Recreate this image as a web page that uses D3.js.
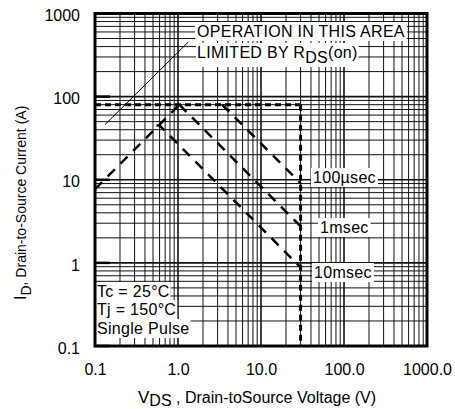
<!DOCTYPE html>
<html>
<head>
<meta charset="utf-8">
<script src="https://cdn.jsdelivr.net/npm/d3@7"></script>
<style>
  body { margin: 0; background: #fff; }
  svg { font-family: "Liberation Sans", Arial, sans-serif; }
</style>
</head>
<body>
<svg id="chart"></svg>
<script>
const width = 455;
const height = 409;

// axis ticks
const voltageTicks = [0.1, 1, 10, 100, 1000];
const voltageLabels = ['0.1', '1.0', '10.0', '100.0', '1000.0'];
const currentTicks = [0.1, 1, 10, 100, 1000];
const currentLabels = ['0.1', '1', '10', '100', '1000'];

// boundary lines [V, I]
const rdsLimit = [[0.1, 7.7], [1.04, 80]];
const currentLimit = [[0.1, 80], [30, 80]];
const voltageLimit = [[30, 80], [30, 0.1]];

// pulse lines [V, I]
const pulse100us = [[3.4, 80], [30, 9.1]];
const pulse1ms = [[1.04, 80], [30, 2.75]];
const pulse10ms = [[0.55, 45], [0.6, 45], [30, 0.88]];

// pointer for the annotation
const pointer = [[0.132, 46], [1.32, 450]];

const x = d3.scaleLog().domain([0.1, 1000]).range([95, 427]);
const y = d3.scaleLog().domain([0.1, 1000]).range([346, 13.5]);

const chart = d3.select('#chart')
  .attr('width', width)
  .attr('height', height);

/* grid */
const grid = chart.append('g');
grid.selectAll('line.vx')
  .data(x.ticks())
  .enter()
  .append('line')
  .attr('x1', d => x(d))
  .attr('x2', d => x(d))
  .attr('y1', y(1000))
  .attr('y2', y(0.1))
  .attr('stroke', '#111')
  .attr('stroke-width', d => (voltageTicks.includes(d) ? 1.6 : 1));
grid.selectAll('line.hy')
  .data(y.ticks())
  .enter()
  .append('line')
  .attr('y1', d => y(d))
  .attr('y2', d => y(d))
  .attr('x1', x(0.1))
  .attr('x2', x(1000))
  .attr('stroke', '#111')
  .attr('stroke-width', d => (currentTicks.includes(d) ? 1.6 : 1));

/* short decade ticks on the left */
grid.selectAll('line.tk')
  .data(currentTicks)
  .enter()
  .append('line')
  .attr('x1', x(0.1))
  .attr('x2', x(0.1) + 15)
  .attr('y1', d => y(d))
  .attr('y2', d => y(d))
  .attr('stroke', '#000')
  .attr('stroke-width', 2.5);

/* curves */
const line = d3.line().x(d => x(d[0])).y(d => y(d[1]));

chart.append('path').datum(pointer)
  .attr('d', line).attr('fill', 'none')
  .attr('stroke', '#000').attr('stroke-width', 1);

[rdsLimit, pulse100us, pulse1ms, pulse10ms].forEach(p => {
  chart.append('path').datum(p)
    .attr('d', line).attr('fill', 'none')
    .attr('stroke', '#000').attr('stroke-width', 2.5)
    .attr('stroke-dasharray', '10,8');
});

[currentLimit, voltageLimit].forEach(p => {
  chart.append('path').datum(p)
    .attr('d', line).attr('fill', 'none')
    .attr('stroke', '#000').attr('stroke-width', 3)
    .attr('stroke-dasharray', '6,4');
});

/* labels with white boxes */
function boxLabel(parts, px, py, pad) {
  const g = chart.append('g');
  const rect = g.append('rect').attr('fill', '#fff');
  const t = g.append('text')
    .attr('x', px).attr('y', py)
    .attr('font-size', 16).attr('fill', '#000')
    .attr('letter-spacing', 0.3);
  parts.forEach(p => {
    t.append('tspan')
      .attr('dy', p.dy || 0)
      .attr('font-size', p.size || 16)
      .text(p.text);
  });
  const b = t.node().getBBox();
  rect.attr('x', b.x - pad).attr('y', b.y - 1)
    .attr('width', b.width + pad * 2).attr('height', b.height + 2);
}

boxLabel([{ text: 'OPERATION IN THIS AREA' }], 197, 37, 2);
boxLabel([{ text: 'LIMITED BY R' }, { text: 'DS', dy: 5 }, { text: '(on)', dy: -5 }], 197, 58, 1);
boxLabel([{ text: '100µsec' }], 313, 183, 2);
boxLabel([{ text: '1msec' }], 320, 233, 2);
boxLabel([{ text: '10msec' }], 314, 278, 2);
boxLabel([{ text: 'Tc = 25°C' }], 97, 297, 1);
boxLabel([{ text: 'Tj = 150°C' }], 97, 315, 1);
boxLabel([{ text: 'Single Pulse' }], 97, 334, 1);

/* frame */
chart.append('rect')
  .attr('x', x(0.1)).attr('y', y(1000))
  .attr('width', x(1000) - x(0.1)).attr('height', y(0.1) - y(1000))
  .attr('fill', 'none').attr('stroke', '#000').attr('stroke-width', 3);

/* Bottom Axis */
const botAxis = d3.axisBottom(x)
  .tickValues(voltageTicks)
  .tickFormat((d, i) => voltageLabels[i])
  .tickSize(0)
  .tickPadding(0);
const bot = chart.append('g')
  .attr('transform', `translate(0, 364)`)
  .call(botAxis);
bot.select('.domain').remove();
bot.selectAll('text')
  .attr('font-size', 16)
  .attr('font-family', '"Liberation Sans", Arial, sans-serif')
  .attr('fill', '#000');

/* Left Axis */
const leftAxis = d3.axisLeft(y)
  .tickValues(currentTicks)
  .tickFormat((d, i) => currentLabels[i])
  .tickSize(0)
  .tickPadding(0);
const left = chart.append('g')
  .attr('transform', `translate(80, 0)`)
  .call(leftAxis);
left.select('.domain').remove();
left.selectAll('text')
  .attr('font-size', 16)
  .attr('dy', '0.45em')
  .attr('font-family', '"Liberation Sans", Arial, sans-serif')
  .attr('fill', '#000');

/* axis titles */
const xt = chart.append('text')
  .attr('x', 138).attr('y', 403)
  .attr('fill', '#000');
xt.append('tspan').attr('font-size', 17).text('V');
xt.append('tspan').attr('font-size', 16).attr('dy', 3).text('DS');
xt.append('tspan').attr('font-size', 16).attr('dy', -3).text('  , Drain-toSource Voltage (V)');

const yt = chart.append('text')
  .attr('transform', 'translate(26, 300) rotate(-90)')
  .attr('fill', '#000')
  .attr('font-size', 14);
yt.append('tspan').attr('font-size', 16).text('I');
yt.append('tspan').attr('dy', 5).text('D');
yt.append('tspan').attr('dy', -5).text(',  Drain-to-Source Current (A)');
</script>
</body>
</html>
